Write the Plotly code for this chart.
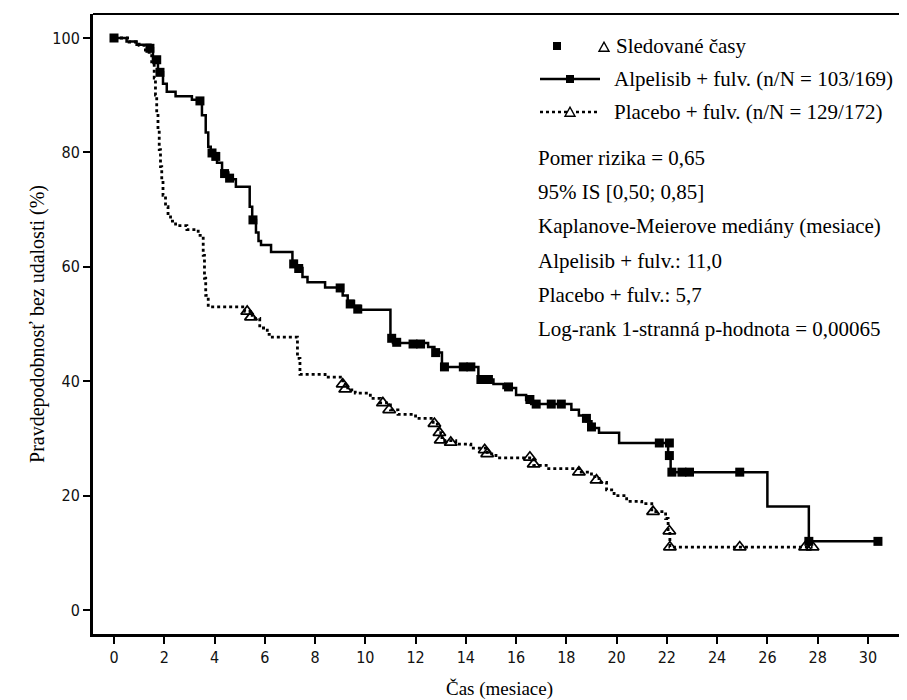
import plotly.graph_objects as go

# ---------------- data ----------------
# Alpelisib + fulvestrant: Kaplan-Meier step points (months, %)
alp_time = [0, 0.5, 0.9, 1.45, 1.55, 1.75, 1.95, 2.1, 2.45, 3.1, 3.5, 3.65, 3.75, 3.85,
            4.1, 4.3, 4.55, 4.85, 5.4, 5.5, 5.65, 5.75, 5.85, 6.25, 7.1, 7.25, 7.5, 7.7,
            8.4, 9.1, 9.3, 9.55, 9.8, 11.0, 11.1, 12.5, 12.75, 13.05, 14.5, 15.1, 15.5,
            16.0, 16.4, 16.6, 18.2, 18.5, 18.8, 19.0, 19.3, 20.1, 22.05, 22.15, 26.0,
            27.65, 30.4]
alp_surv = [100, 99.4, 98.8, 98.2, 96.3, 94.0, 92.0, 90.6, 89.8, 89.2, 86.5, 83.5, 81.0, 79.5,
            78.2, 76.5, 75.3, 74.0, 70.5, 68.2, 66.0, 64.5, 63.8, 62.6, 61.0, 59.8, 58.2, 57.3,
            56.4, 55.0, 54.0, 53.2, 52.5, 47.8, 46.7, 46.0, 45.0, 42.5, 40.3, 39.5, 38.8,
            37.6, 36.7, 36.0, 35.0, 34.0, 33.0, 31.8, 31.0, 29.2, 27.0, 24.1, 18.1,
            12.0, 12.0]
alp_cens_time = [0, 1.43, 1.7, 1.83, 3.42, 3.9, 4.05, 4.4, 4.6, 5.53, 7.15, 7.35, 9.0, 9.4,
                 9.7, 11.05, 11.25, 11.9, 12.2, 12.8, 13.15, 13.9, 14.2, 14.6, 14.9, 15.7,
                 16.55, 16.8, 17.4, 17.8, 18.8, 19.0, 21.7, 22.1, 22.1, 22.2, 22.6, 22.9,
                 24.9, 27.65, 30.4]
alp_cens_surv = [100, 98.2, 96.2, 94.0, 89.0, 79.9, 79.3, 76.3, 75.5, 68.2, 60.5, 59.7, 56.3,
                 53.5, 52.6, 47.5, 46.8, 46.5, 46.5, 45.0, 42.5, 42.5, 42.5, 40.3, 40.3, 39.0,
                 36.8, 36.0, 36.0, 36.0, 33.5, 32.0, 29.2, 29.2, 27.0, 24.1, 24.1, 24.1,
                 24.1, 12.0, 12.0]

# Placebo + fulvestrant
pla_time = [0, 0.6, 1.0, 1.25, 1.5, 1.6, 1.65, 1.7, 1.75, 1.8, 1.85, 1.9, 1.95, 2.05, 2.15,
            2.25, 2.45, 2.9, 3.35, 3.55, 3.6, 3.65, 3.75, 5.2, 5.5, 5.8, 6.1, 6.3, 7.3, 7.4,
            8.4, 9.1, 9.3, 9.6, 10.2, 10.6, 11.0, 11.3, 12.0, 12.7, 12.9, 13.05, 13.6,
            14.2, 14.85, 15.2, 16.7, 17.2, 18.5, 19.0, 19.3, 19.6, 19.9, 20.4, 21.0, 21.4,
            21.95, 22.05, 22.12, 27.8]
pla_surv = [100, 99.3, 98.7, 97.5, 95.5, 93.0, 90.0, 87.0, 84.0, 80.5, 77.5, 75.0, 72.5, 70.5,
            69.0, 68.0, 67.2, 66.5, 65.5, 62.0, 58.0, 55.0, 53.0, 52.2, 51.0, 49.3, 48.2,
            47.7, 44.0, 41.2, 40.7, 39.5, 38.5, 37.9, 37.0, 36.2, 35.0, 34.2, 33.5, 32.5,
            31.0, 29.6, 29.0, 28.3, 27.3, 26.6, 25.3, 24.7, 24.1, 23.3, 22.3, 21.0, 20.0,
            19.0, 18.6, 17.2, 16.0, 13.8, 11.0, 11.0]
pla_cens_time = [5.3, 5.45, 9.1, 9.2, 10.7, 10.95, 12.75, 12.95, 13.0, 13.4, 14.75, 14.85,
                 16.55, 16.7, 18.5, 19.2, 21.45, 22.1, 22.12, 24.9, 27.5, 27.8]
pla_cens_surv = [52.2, 51.2, 39.5, 38.6, 36.2, 35.0, 32.6, 31.0, 29.7, 29.3, 28.0, 27.3,
                 26.7, 25.5, 24.1, 22.7, 17.2, 13.8, 11.0, 11.0, 11.0, 11.0]

x_ticks = list(range(0, 31, 2))
y_ticks = [0, 20, 40, 60, 80, 100]

legend_rows = ["Sledované časy",
               "Alpelisib + fulv. (n/N = 103/169)",
               "Placebo + fulv. (n/N = 129/172)"]
stat_lines = ["Pomer rizika = 0,65",
              "95% IS [0,50; 0,85]",
              "Kaplanove-Meierove mediány (mesiace)",
              "Alpelisib + fulv.: 11,0",
              "Placebo + fulv.: 5,7",
              "Log-rank 1-stranná p-hodnota = 0,00065"]

# ---------------- layout geometry (screen pixels; page body has 8px margin) ----------------
OFF = 8
W, H = 907 - OFF, 700 - OFF
X_LEFT, X_RIGHT, Y_TOP, Y_BOT = 93, 906, 14, 634   # plot-area edges on screen
L = X_LEFT - OFF
T = Y_TOP - OFF
R = W - (X_RIGHT - OFF)
B = H - (Y_BOT - OFF)
PW, PH = W - L - R, H - T - B


def px(xs):
    return (xs - X_LEFT) / PW


def py(ys):
    return (Y_BOT - ys) / PH


SERIF = "Liberation Serif, Times New Roman, serif"
TICKF = "DejaVu Sans Condensed, Liberation Sans Narrow, Arial Narrow, sans-serif"

fig = go.Figure()
fig.add_trace(go.Scatter(x=alp_time, y=alp_surv, mode="lines", line_shape="hv",
                         line=dict(color="black", width=2.5), showlegend=False,
                         name=legend_rows[1]))
fig.add_trace(go.Scatter(x=pla_time, y=pla_surv, mode="lines", line_shape="hv",
                         line=dict(color="black", width=2.8, dash="dot"), showlegend=False,
                         name=legend_rows[2]))
fig.add_trace(go.Scatter(x=alp_cens_time, y=alp_cens_surv, mode="markers",
                         marker=dict(symbol="square", size=9, color="black"),
                         showlegend=False, name="Alpelisib censored"))
fig.add_trace(go.Scatter(x=pla_cens_time, y=pla_cens_surv, mode="markers",
                         marker=dict(symbol="triangle-up-open", size=11, color="black",
                                     line=dict(width=1.7)),
                         showlegend=False, name="Placebo censored"))

shapes = []
annotations = []

# top and right frame lines
shapes.append(dict(type="line", xref="paper", yref="paper", x0=0, x1=1, y0=1, y1=1,
                   line=dict(color="black", width=2)))
shapes.append(dict(type="line", xref="paper", yref="paper", x0=1, x1=1, y0=0, y1=1,
                   line=dict(color="black", width=2)))

# manual legend
fs = 21
row_y = [46, 79, 112]
shapes.append(dict(type="rect", xref="paper", yref="paper",
                   x0=px(553), x1=px(561), y0=py(50), y1=py(42),
                   fillcolor="black", line=dict(width=0)))


def tri_path(cx, cy, s):
    return "M {} {} L {} {} L {} {} Z".format(
        px(cx - s), py(cy + s * 0.85), px(cx + s), py(cy + s * 0.85), px(cx), py(cy - s * 0.95))


shapes.append(dict(type="path", xref="paper", yref="paper", path=tri_path(604, row_y[0] + 1, 5),
                   line=dict(color="black", width=1.4), fillcolor="white"))
shapes.append(dict(type="line", xref="paper", yref="paper", x0=px(540), x1=px(600),
                   y0=py(row_y[1]), y1=py(row_y[1]), line=dict(color="black", width=2.5)))
shapes.append(dict(type="rect", xref="paper", yref="paper",
                   x0=px(566), x1=px(574), y0=py(row_y[1] + 4), y1=py(row_y[1] - 4),
                   fillcolor="black", line=dict(width=0)))
shapes.append(dict(type="line", xref="paper", yref="paper", x0=px(540), x1=px(600),
                   y0=py(row_y[2]), y1=py(row_y[2]),
                   line=dict(color="black", width=2.5, dash="dot")))
shapes.append(dict(type="path", xref="paper", yref="paper", path=tri_path(570, row_y[2], 5),
                   line=dict(color="black", width=1.4), fillcolor="white"))

text_x = [614, 612, 612]
for txt, ty, tx in zip(legend_rows, row_y, text_x):
    annotations.append(dict(xref="paper", yref="paper", x=px(tx), y=py(ty), text=txt,
                            showarrow=False, xanchor="left", yanchor="middle",
                            font=dict(family=SERIF, size=fs, color="black")))

stat_y = [158, 192, 226, 261, 295, 329]
for txt, ty in zip(stat_lines, stat_y):
    annotations.append(dict(xref="paper", yref="paper", x=px(536), y=py(ty), text=txt,
                            showarrow=False, xanchor="left", yanchor="middle",
                            font=dict(family=SERIF, size=fs, color="black")))

fig.update_layout(
    width=W, height=H,
    margin=dict(l=L, r=R, t=T, b=B, pad=0),
    paper_bgcolor="white", plot_bgcolor="white",
    shapes=shapes, annotations=annotations,
    showlegend=False,
)
fig.update_xaxes(
    range=[(X_LEFT - 114) / 25.13, (X_RIGHT - 114) / 25.13],
    tickvals=x_ticks, ticktext=[str(v) for v in x_ticks],
    ticks="outside", ticklen=7, tickwidth=2, tickcolor="black",
    showline=True, linecolor="black", linewidth=3, showgrid=False, zeroline=False,
    tickfont=dict(family=TICKF, size=16, color="#111"),
    title=dict(text="Čas (mesiace)", font=dict(family=SERIF, size=19, color="black"),
               standoff=16),
    automargin=False,
)
fig.update_yaxes(
    range=[(610 - Y_BOT) / 5.72, (610 - Y_TOP) / 5.72],
    tickvals=y_ticks, ticktext=[str(v) for v in y_ticks],
    ticks="outside", ticklen=7, tickwidth=2, tickcolor="black",
    showline=True, linecolor="black", linewidth=3, showgrid=False, zeroline=False,
    tickfont=dict(family=TICKF, size=16, color="#111"),
    title=dict(text="Pravdepodobnosť bez udalosti (%)",
               font=dict(family=SERIF, size=20, color="black"), standoff=3),
    automargin=False,
)

fig.write_html("out.html")
